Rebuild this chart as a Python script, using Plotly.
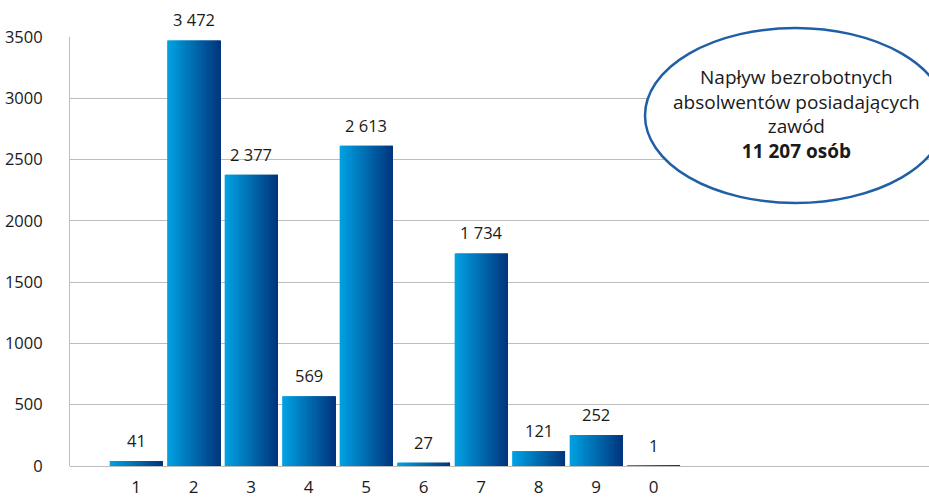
import plotly.graph_objects as go

categories = ["1", "2", "3", "4", "5", "6", "7", "8", "9", "0"]
values = [41, 3472, 2377, 569, 2613, 27, 1734, 121, 252, 1]
value_labels = ["41", "3 472", "2 377", "569", "2 613", "27", "1 734", "121", "252", "1"]
y_ticks = [0, 500, 1000, 1500, 2000, 2500, 3000, 3500]
bubble_lines = ["Napływ bezrobotnych", "absolwentów posiadających", "zawód"]
bubble_total = "11 207 osób"

FONT = "Open Sans"
positions = list(range(1, len(categories) + 1))

fig = go.Figure()

# Horizontal gradient bars built from thin overlapping slices
N = 50
W = 0.92
c_left = (0, 162, 226)
c_right = (0, 54, 126)
for i in range(N):
    t = i / (N - 1)
    col = tuple(round(a + (b - a) * t) for a, b in zip(c_left, c_right))
    step = W / N
    fig.add_trace(go.Bar(
        x=positions, y=values,
        width=step * 2.0 if i < N - 1 else step,
        offset=-W / 2 + i * step,
        marker=dict(color="rgb(%d,%d,%d)" % col, line=dict(width=0)),
        hoverinfo="skip", showlegend=False,
    ))

annotations = []
for p, v, lab in zip(positions, values, value_labels):
    annotations.append(dict(
        x=p, y=v, xref="x", yref="y", text=lab, showarrow=False,
        xanchor="center", yanchor="bottom", yshift=7,
        font=dict(family=FONT, size=16.5, color="#1a1a1a"),
    ))

annotations.append(dict(
    xref="paper", yref="paper",
    x=(796 - 70) / 859, y=(466 - 114) / 429,
    xanchor="center", yanchor="middle",
    text="<br>".join(bubble_lines) + "<br><b>" + bubble_total + "</b>",
    showarrow=False, align="center",
    font=dict(family=FONT, size=19, color="#1a1a1a"),
))

fig.update_layout(
    width=929, height=498,
    margin=dict(l=70, r=0, t=37, b=32),
    paper_bgcolor="white", plot_bgcolor="white",
    barmode="overlay",
    font=dict(family=FONT, size=16, color="#1a1a1a"),
    xaxis=dict(
        range=[-0.15, 14.79],
        tickvals=positions, ticktext=categories,
        showgrid=False, zeroline=False,
        showline=False, ticks="",
        ticklabelstandoff=9,
        tickfont=dict(family=FONT, size=17, color="#1a1a1a"),
        automargin=False,
    ),
    yaxis=dict(
        range=[0, 3500],
        tickvals=y_ticks,
        showgrid=True, gridcolor="#bdbdbd", gridwidth=1,
        zeroline=True, zerolinecolor="#bdbdbd", zerolinewidth=1,
        showline=True, linecolor="#bdbdbd", linewidth=1,
        ticks="", ticklabelstandoff=23,
        tickfont=dict(family=FONT, size=16.5, color="#1a1a1a"),
        automargin=False,
    ),
    shapes=[dict(
        type="circle", xref="paper", yref="paper",
        x0=(645 - 70) / 859, x1=(946 - 70) / 859,
        y0=(466 - 203) / 429, y1=(466 - 28) / 429,
        line=dict(color="#1f5fa6", width=2.5),
        fillcolor="white", layer="above",
    )],
    annotations=annotations,
)

fig.write_html("out.html", config={"displayModeBar": False},
               post_script="document.body.style.margin='0';")
